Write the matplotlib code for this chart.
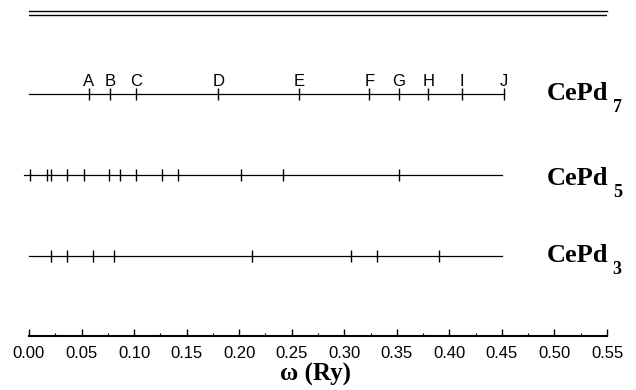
import matplotlib
matplotlib.use("Agg")
import matplotlib.pyplot as plt

# frequency marks (Ry)
cepd7_freqs = [0.057, 0.077, 0.102, 0.180, 0.257, 0.324, 0.352, 0.380, 0.412, 0.452]
cepd7_labels = ["A", "B", "C", "D", "E", "F", "G", "H", "I", "J"]
cepd5_freqs = [0.001, 0.017, 0.021, 0.036, 0.052, 0.076, 0.087, 0.102,
               0.127, 0.142, 0.202, 0.242, 0.352]
cepd3_freqs = [0.021, 0.036, 0.061, 0.081, 0.212, 0.306, 0.331, 0.390]

compounds = ["CePd", "CePd", "CePd"]
subscripts = ["7", "5", "3"]
line_spans = [(0.0, 0.452), (-0.005, 0.45), (0.0, 0.45)]

x_ticks = [0.00, 0.05, 0.10, 0.15, 0.20, 0.25, 0.30, 0.35, 0.40, 0.45, 0.50, 0.55]


def make_plot(save_path="out.png"):
    W, H = 636, 390
    fig = plt.figure(figsize=(W / 100, H / 100), dpi=100)
    # axes box in pixel terms: x 29..607, y 10.5..336 (from top)
    ax = fig.add_axes([29 / W, 1 - 336 / H, (607 - 29) / W, (336 - 10.5) / H])
    ax.set_xlim(0, 0.55)
    ax.set_ylim(0, 325.5)

    rows_y = [242, 161, 80]  # pixel heights above the axis
    tick_half = 6
    rows = [cepd7_freqs, cepd5_freqs, cepd3_freqs]
    label_dy = [0, -3, 0]

    for y, freqs, span, name, sub, dy in zip(rows_y, rows, line_spans,
                                           compounds, subscripts, label_dy):
        ax.plot(span, [y, y], color="black", lw=0.9, clip_on=False)
        ax.vlines(freqs, y - tick_half, y + tick_half, color="black", lw=1.0,
                  clip_on=False)
        ax.text(0.493, y + dy, name, fontsize=19, fontweight="bold",
                family="Liberation Serif", ha="left", va="center")
        ax.text(0.5555, y + dy - 14, sub, fontsize=13, fontweight="bold",
                family="Liberation Serif", ha="left", va="center", clip_on=False)

    # letters over the CePd7 marks
    for f, lab in zip(cepd7_freqs, cepd7_labels):
        ax.text(f, rows_y[0] + 8, lab, fontsize=12, family="Liberation Sans",
                ha="center", va="baseline")

    # double line on top
    ax.axhline(321.5, color="black", lw=1.0)

    for s in ["left", "right"]:
        ax.spines[s].set_visible(False)
    ax.spines["top"].set_linewidth(1.0)
    ax.spines["bottom"].set_linewidth(1.5)

    ax.set_xticks(x_ticks)
    ax.set_xticklabels([f"{t:.2f}" for t in x_ticks], family="Liberation Sans",
                       fontsize=12)
    ax.set_xticks([t + 0.025 for t in x_ticks[:-1]], minor=True)
    ax.tick_params(axis="x", which="major", direction="in", length=5, width=1,
                   pad=7, top=False)
    ax.tick_params(axis="x", which="minor", direction="in", length=2.5,
                   width=0.8, top=False)
    ax.set_yticks([])

    fig.text(316 / W, 1 - 374 / H, "ω (Ry)", fontsize=18, fontweight="bold",
             family="Liberation Serif", ha="center", va="center")

    fig.savefig(save_path, dpi=100)
    plt.close(fig)


make_plot()
